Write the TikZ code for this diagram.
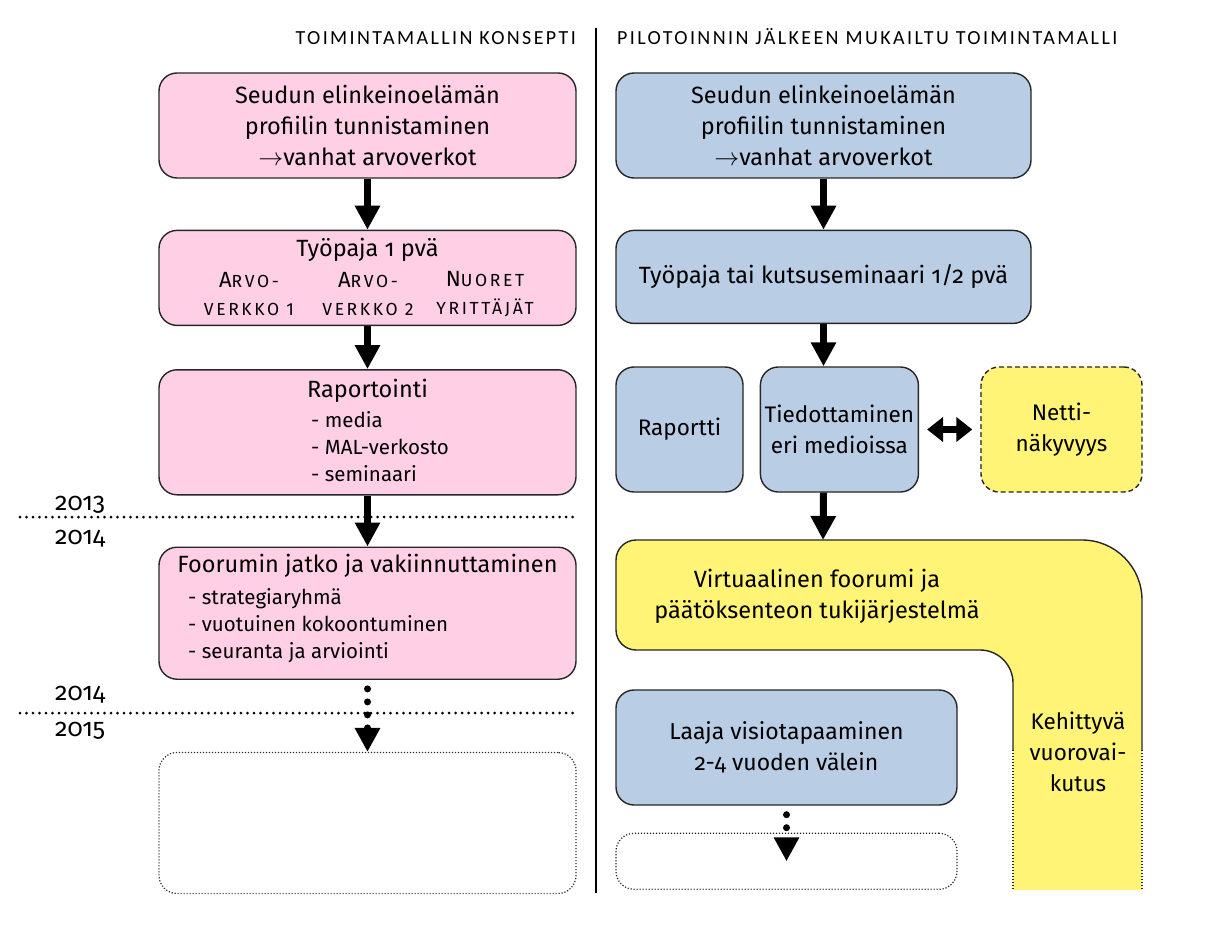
\documentclass[tikz,border=0pt]{standalone}
\usepackage{fontspec}
\setmainfont[Numbers=OldStyle]{Fira Sans}
\newfontfamily\headfont[LetterSpace=12]{Carlito}
\newfontfamily\scfont[LetterSpace=15,Numbers=Lining]{Fira Sans}
\usepackage{tikz}
\usetikzlibrary{arrows.meta,positioning,calc}
\definecolor{mypink}{RGB}{255,208,229}
\definecolor{myblue}{RGB}{185,205,229}
\definecolor{myyellow}{RGB}{255,244,117}
\tikzstyle{box}=[draw=black!85,line width=1.4pt,rounded corners=18pt,align=center,inner sep=0pt,font=\fontsize{23.5}{31}\selectfont]
\tikzstyle{pinkbox}=[box,fill=mypink,minimum width=417pt]
\tikzstyle{bluebox}=[box,fill=myblue]
\tikzstyle{nettibox}=[box,fill=myyellow,dash pattern=on 5pt off 3pt]
\tikzstyle{openbox}=[box,line width=1.2pt,dash pattern=on 1.2pt off 1.8pt]
\tikzstyle{boxtext}=[inner sep=0pt,align=center,font=\fontsize{23.5}{31}\selectfont]
\tikzstyle{smalltext}=[font=\fontsize{22.5}{31}\selectfont]
\tikzstyle{listtext}=[inner sep=0pt,align=left,anchor=west,font=\fontsize{20.5}{27}\selectfont]
\tikzstyle{sctext}=[inner sep=0pt,align=center,font=\scfont\fontsize{17.5}{28}\selectfont]
\tikzstyle{headtext}=[inner sep=0pt,font=\headfont\fontsize{20}{24}\selectfont]
\tikzstyle{yeartext}=[inner sep=0pt,anchor=base west,font=\fontsize{25}{28}\selectfont]
\tikzstyle{yearline}=[line width=3pt,line cap=round,dash pattern=on 0pt off 6.5pt]
\tikzstyle{fatarrow}=[line width=7pt,-{Triangle[width=24pt,length=24pt]}]
\tikzstyle{dotarrow}=[fatarrow,line cap=round,dash pattern=on 0pt off 13pt,shorten <=9pt]
\tikzstyle{twoarrow}=[line width=7pt,{Triangle[width=24pt,length=16pt]}-{Triangle[width=24pt,length=16pt]},shorten <=8pt,shorten >=8pt]
\newcommand{\smcap}[2]{{\fontsize{22}{28}\selectfont #1}#2}

\begin{document}
\begin{tikzpicture}[x=1pt,y=-1pt]
\useasboundingbox (0,0) rectangle (1205,944);

% headers and divider
\node[headtext,anchor=base east] (headL) at (576,45) {TOIMINTAMALLIN KONSEPTI};
\node[headtext,anchor=base west] (headR) at (617,45) {PILOTOINNIN JÄLKEEN MUKAILTU TOIMINTAMALLI};
\draw[line width=2pt] (596,28) -- (596,893);

% years
\draw[yearline] (20,517) -- (578,517);
\draw[yearline] (20,713) -- (578,713);
\node[yeartext] (y13) at (55,510) {2013};
\node[yeartext] (y14a) at (55,544) {2014};
\node[yeartext] (y14b) at (55,700) {2014};
\node[yeartext] (y15) at (55,736) {2015};

% left column
\node[pinkbox,minimum height=105pt] (seutuL) at (367.5,125.5) {Seudun elinkeinoelämän\\profiilin tunnistaminen\\$\rightarrow$vanhat arvoverkot};
\node[pinkbox,minimum height=95pt,below=51pt of seutuL] (tyopajaL) {};
\node[pinkbox,minimum height=125pt,below=43pt of tyopajaL] (raportointi) {};
\node[pinkbox,minimum height=132pt,below=51pt of raportointi] (foorumi) {};
\node[openbox,minimum width=417pt,minimum height=141pt,below=72pt of foorumi] (jatkoL) {};

\node[boxtext,anchor=base] (tyopajaLt) at (367.5,256) {Työpaja 1 pvä};
\node[sctext] (arvo1) at (249,294) {\smcap{A}{RVO-}\\VERKKO 1};
\node[sctext] (arvo2) at (368,294) {\smcap{A}{RVO-}\\VERKKO 2};
\node[sctext] (nuoret) at (485,294) {\smcap{N}{UORET}\\YRITTÄJÄT};

\node[boxtext,anchor=base] (raportointit) at (367.5,397) {Raportointi};
\node[listtext] (raportointil) at (311,447) {- media\\- MAL-verkosto\\- seminaari};

\node[boxtext,anchor=base] (foorumit) at (367.5,572) {Foorumin jatko ja vakiinnuttaminen};
\node[listtext] (foorumil) at (188,626) {- strategiaryhmä\\- vuotuinen kokoontuminen\\- seuranta ja arviointi};

\draw[fatarrow] (seutuL) -- (tyopajaL);
\draw[fatarrow] (tyopajaL) -- (raportointi);
\draw[fatarrow] (raportointi) -- (foorumi);
\draw[dotarrow] (foorumi) -- (jatkoL);

% right column
\node[bluebox,minimum width=415pt,minimum height=105pt] (seutuR) at (823.5,125.5) {Seudun elinkeinoelämän\\profiilin tunnistaminen\\$\rightarrow$vanhat arvoverkot};
\node[bluebox,minimum width=415pt,minimum height=93pt,below=51pt of seutuR] (tyopajaR) {Työpaja tai kutsuseminaari 1/2 pvä};
\node[bluebox,smalltext,minimum width=127pt,minimum height=125pt] (raportti) at (679.5,429.5) {Raportti};
\node[bluebox,smalltext,minimum width=158pt,minimum height=125pt,right=16pt of raportti] (tiedotus) {Tiedottaminen\\eri medioissa};
\node[nettibox,smalltext,minimum width=161pt,minimum height=125pt] (netti) at (1061.5,429.5) {Netti-\\näkyvyys};

% virtual forum band
\fill[myyellow] (616,560) arc(180:270:20) -- (1082,540) arc(270:360:60) -- (1142,890) -- (1013,890) -- (1013,683) arc(0:-90:33) -- (636,650) arc(90:180:20) -- cycle;
\draw[black!85,line width=1.4pt] (1142,750) -- (1142,600) arc(0:-90:60) -- (636,540) arc(-90:-180:20) -- (616,630) arc(180:90:20) -- (980,650) arc(-90:0:33) -- (1013,750);
\draw[black!85,line width=1.2pt,dash pattern=on 1.2pt off 1.8pt] (1013,750) -- (1013,890) (1142,750) -- (1142,890);
\coordinate (virt) at (823,540);
\node[boxtext] (virtt) at (817,596) {Virtuaalinen foorumi ja\\päätöksenteon tukijärjestelmä};
\node[boxtext,smalltext] (kehitys) at (1078,752) {Kehittyvä\\vuorovai-\\kutus};

\node[bluebox,minimum width=341pt,minimum height=115pt,font=\fontsize{23}{31}\selectfont] (laaja) at (786.5,747.5) {Laaja visiotapaaminen\\2-4 vuoden välein};
\node[openbox,minimum width=341pt,minimum height=56pt,below=27pt of laaja] (jatkoR) {};

\draw[fatarrow] (seutuR) -- (tyopajaR);
\draw[fatarrow] (tyopajaR) -- (tyopajaR.south |- tiedotus.north);
\draw[twoarrow] (tiedotus) -- (netti);
\draw[fatarrow] (tiedotus.south -| tyopajaR.south) -- (virt);
\draw[dotarrow] (laaja) -- (jatkoR.center);
\end{tikzpicture}
\end{document}
